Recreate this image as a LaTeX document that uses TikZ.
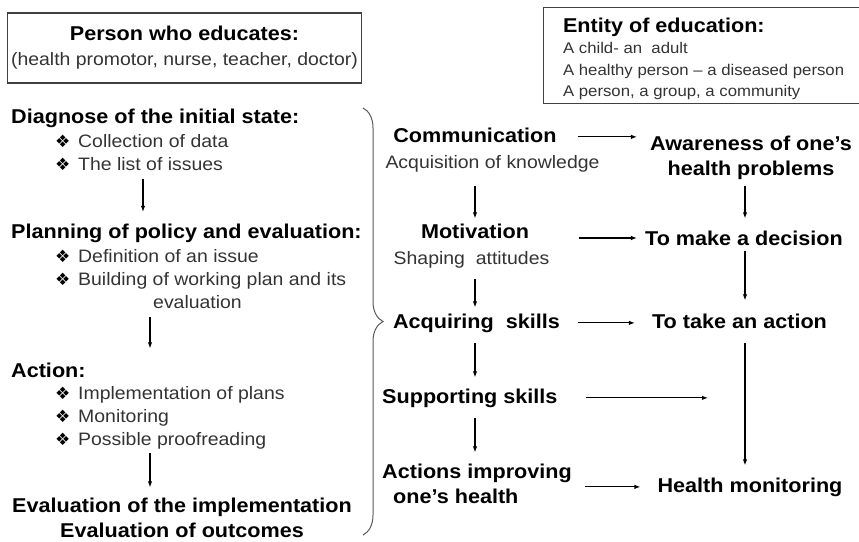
\documentclass[tikz,border=0pt]{standalone}
\usepackage{fontspec}
\setmainfont{Liberation Sans}[FakeStretch=1.08]
\newfontfamily\symb{DejaVu Sans}
\usetikzlibrary{arrows.meta,decorations.pathreplacing}

\newcommand{\puce}{\makebox[23pt][l]{\symb\fontsize{17}{17}\selectfont\color{black}❖}}

\tikzset{
  titre/.style={font=\fontsize{20}{25}\selectfont\bfseries, inner sep=0pt},
  texte/.style={font=\fontsize{18}{23}\selectfont, text=black!80, inner sep=0pt},
  cadre/.style={draw=black!75, line width=1.2pt},
  fleche/.style={-{Latex[length=6pt,width=4.5pt]}, line width=1.1pt},
}

\begin{document}
\begin{tikzpicture}[x=1pt,y=-1pt]
  \useasboundingbox (0,0) rectangle (859,541);
  % les deux cadres
  \node[cadre, align=center, minimum width=353pt, minimum height=70pt,
        font=\fontsize{18}{25}\selectfont, text=black!80] (educateur) at (184.5,48)
       {{\bfseries\fontsize{20}{25}\selectfont\color{black}Person who educates:}\\(health promotor, nurse, teacher, doctor)};
  \node[cadre, align=left, anchor=north west, minimum width=320pt, minimum height=96pt,
        inner xsep=17pt, font=\fontsize{15.5}{21.3}\selectfont, text=black!80] (eduque) at (543,7)
       {\rule{0pt}{21pt}{\bfseries\fontsize{20}{22}\selectfont\color{black}Entity of education:}\\A child- an\ \ adult\\A healthy person -- a diseased person\\A person, a group, a community};
  % colonne de gauche (base = ligne du bas)
  \node[titre, anchor=base west] (diag) at (11,123) {Diagnose of the initial state:};
  \node[texte, anchor=base west, align=left] (liste1) at (55,170)
       {\puce Collection of data\\\puce The list of issues};
  \node[titre, anchor=base west] (plan) at (11,238.5) {Planning of policy and evaluation:};
  \node[texte, anchor=base west, align=left] (liste2) at (55,308)
       {\puce Definition of an issue\\\puce Building of working plan and its\\\hspace*{98pt}evaluation};
  \node[titre, anchor=base west] (action) at (11,377) {Action:};
  \node[texte, anchor=base west, align=left] (liste3) at (55,445)
       {\puce Implementation of plans\\\puce Monitoring\\\puce Possible proofreading};
  \node[titre, anchor=base, align=center] (eval) at (182,537)
       {Evaluation of the implementation\\Evaluation of outcomes};
  \coordinate (g1) at (143,0);
  \coordinate (g2) at (150,0);
  \draw[fleche, shorten <=9pt, shorten >=12pt] (liste1.south -| g1) -- (plan.north -| g1);
  \draw[fleche, shorten <=9pt, shorten >=14pt] (liste2.south -| g2) -- (action.north -| g2);
  \draw[fleche, shorten <=4pt, shorten >=10pt] (liste3.south -| g2) -- (eval.north -| g2);
  % accolade
  \draw[decorate, decoration={brace, amplitude=20pt}, draw=black!65, line width=1pt]
       (363,108) -- (363,535);
  % colonne du milieu
  \node[titre, anchor=base] (comm) at (475,142) {Communication};
  \node[texte, anchor=base] (savoir) at (492.5,168) {Acquisition of knowledge};
  \node[titre, anchor=base] (motiv) at (475,238) {Motivation};
  \node[texte, anchor=base] (attitude) at (471.5,264) {Shaping\ \ attitudes};
  \node[titre, anchor=base] (acquis) at (476.5,328) {Acquiring\ \ skills};
  \node[titre, anchor=base west] (soutien) at (382,403) {Supporting skills};
  \node[titre, anchor=base west, align=left] (agir) at (382,503)
       {Actions improving\\\hspace*{11pt}one’s health};
  \draw[fleche, shorten <=14pt, shorten >=5pt] (savoir.south -| comm) -- (motiv.north);
  \draw[fleche, shorten <=11pt, shorten >=6pt] (attitude.south -| comm) -- (acquis.north -| comm);
  \draw[fleche, shorten <=11pt, shorten >=11pt] (acquis.south -| comm) -- (soutien.north -| comm);
  \draw[fleche, shorten <=11pt, shorten >=11pt] (soutien.south -| comm) -- (agir.north -| comm);
  % colonne de droite
  \node[titre, anchor=base, align=center] (conscience) at (751,175)
       {Awareness of one’s\\health problems};
  \node[titre, anchor=base] (decision) at (744,245) {To make a decision};
  \node[titre, anchor=base] (agir2) at (739.5,328) {To take an action};
  \node[titre, anchor=base] (suivi) at (750,492) {Health monitoring};
  \coordinate (d1) at (745,0);
  \draw[fleche, shorten <=7pt, shorten >=12pt] (conscience.south -| d1) -- (decision.north -| d1);
  \draw[fleche, shorten <=6pt, shorten >=13pt] (decision.south -| d1) -- (agir2.north -| d1);
  \draw[fleche, shorten <=15pt, shorten >=12pt] (agir2.south -| d1) -- (suivi.north -| d1);
  % fleches horizontales
  \coordinate (fin) at (708,397);
  \draw[fleche, shorten <=21pt, shorten >=13pt] ([yshift=-2pt]comm.east) -- ([yshift=-2pt]comm.east -| conscience.west);
  \draw[fleche, shorten <=50pt, shorten >=8pt] (motiv.base east) -- (motiv.base east -| decision.west);
  \draw[fleche, shorten <=18pt, shorten >=17pt] (acquis.east) -- (acquis.east -| agir2.west);
  \draw[fleche, shorten <=28pt] (soutien.east) -- (soutien.east -| fin);
  \draw[fleche, shorten <=13pt, shorten >=17pt] (agir.east |- suivi) -- (suivi.west);
\end{tikzpicture}
\end{document}
